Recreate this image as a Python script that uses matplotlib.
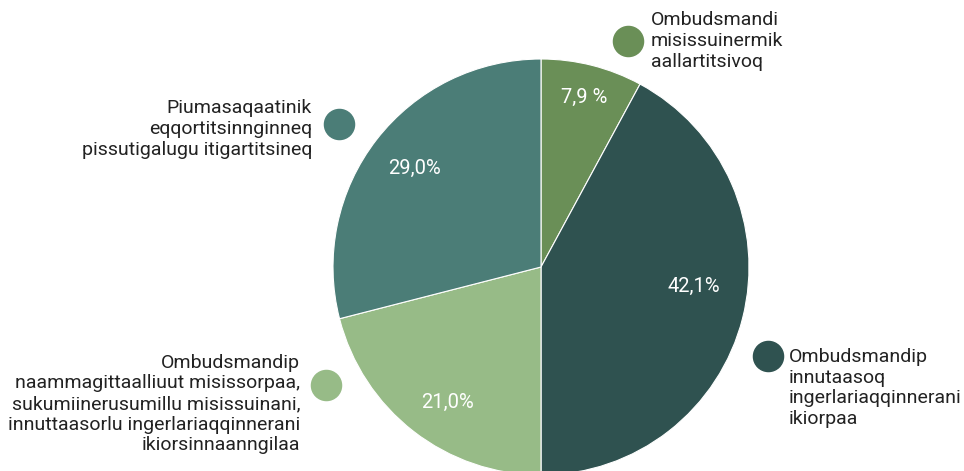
import numpy as np
import matplotlib
matplotlib.use('Agg')
from matplotlib import pyplot as plt

plt.rcParams['font.family'] = ['Roboto', 'DejaVu Sans']

values = [7.9, 42.1, 21.0, 29.0]
pct_labels = ['7,9 %', '42,1%', '21,0%', '29,0%']
colors = ['#6a8f57', '#2f5250', '#97bb87', '#4b7d77']
names = [
    'Ombudsmandi\nmisissuinermik\naallartitsivoq',
    'Ombudsmandip\ninnutaasoq\ningerlariaqqinnerani\nikiorpaa',
    'Ombudsmandip\nnaammagittaalliuut misissorpaa,\nsukumiinerusumillu misissuinani,\ninnuttaasorlu ingerlariaqqinnerani\nikiorsinnaanngilaa',
    'Piumasaqaatinik\neqqortitsinnginneq\npissutigalugu itigartitsineq',
]

# figure in pixel units
W, H = 964, 471
fig = plt.figure(figsize=(W / 100, H / 100), dpi=100)
ax = fig.add_axes([0, 0, 1, 1])

cx, cy, R = 541, H - 267, 208
wedges, _ = ax.pie(values, colors=colors, startangle=90, counterclock=False,
                   center=(cx, cy), radius=R, frame=True,
                   wedgeprops=dict(edgecolor='white', linewidth=0.8))

# percent labels: angle shift (deg) and radius fraction per wedge
pct_shift = [0, 7, 3, 0]
pct_r = [0.84, 0.74, 0.79, 0.77]
for w, lab, s, r in zip(wedges, pct_labels, pct_shift, pct_r):
    a = np.deg2rad((w.theta1 + w.theta2) / 2 + s)
    ax.text(cx + r * R * np.cos(a), cy + r * R * np.sin(a), lab,
            color='white', fontsize=14.5, ha='center', va='center')

# legend-like labels with dots
dot_xy = [(628, 41), (768, 356), (326, 385), (339, 124)]
text_xy = [(651, 41), (789, 388), (300, 404), (312, 129)]
align = ['left', 'left', 'right', 'right']
for (dx, dy), (tx, ty), ha, name, c in zip(dot_xy, text_xy, align, names, colors):
    ax.scatter([dx], [H - dy], s=470, color=c, zorder=3)
    ax.text(tx, H - ty, name, ha=ha, va='center', fontsize=14,
            color='#222222', linespacing=1.18, multialignment=ha)

ax.set_xlim(0, W)
ax.set_ylim(0, H)
ax.set_aspect('auto')
ax.axis('off')

plt.savefig('out.png', dpi=100)
